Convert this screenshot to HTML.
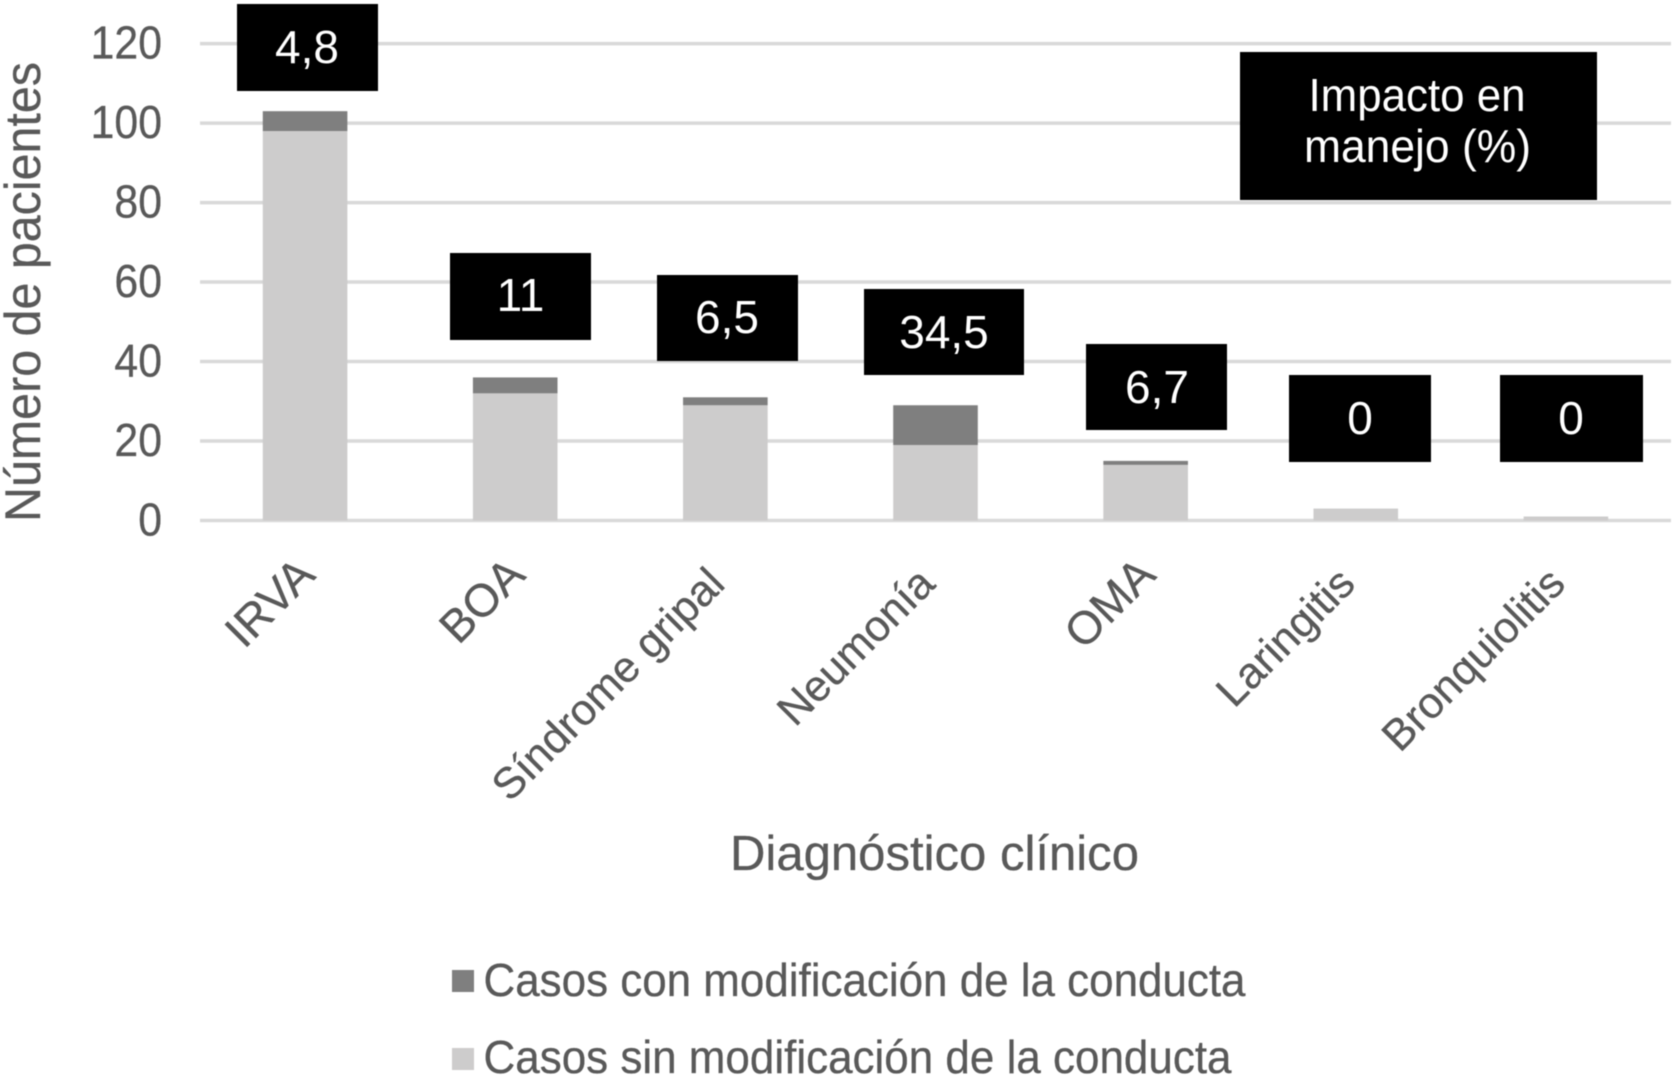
<!DOCTYPE html>
<html lang="es">
<head>
<meta charset="utf-8">
<title>Impacto en manejo por diagnóstico clínico</title>
<style>
html,body{margin:0;padding:0;background:#fff;width:1675px;height:1078px;overflow:hidden}
svg{display:block;filter:blur(0.4px)}
text{font-family:"Liberation Sans",Arial,sans-serif}
.t{fill:#595959;stroke:#595959;stroke-width:.3px}
.w{fill:#fff;text-anchor:middle;font-size:46px}
</style>
</head>
<body>
<svg id="chart" xmlns="http://www.w3.org/2000/svg" width="1675" height="1078" viewBox="0 0 1675 1078">
  <g id="grid"></g>
  <g id="bars"></g>
  <g id="yticks"></g>
  <g id="xticks"></g>

  <text class="t" transform="translate(40,522) rotate(-90)" font-size="50" textLength="460" lengthAdjust="spacingAndGlyphs">Número de pacientes</text>
  <text class="t" x="730" y="870" font-size="49" textLength="409" lengthAdjust="spacingAndGlyphs">Diagnóstico clínico</text>

  <g>
    <rect x="237" y="4" width="141" height="87" fill="#000"/>
    <text class="w" x="307" y="63">4,8</text>
    <rect x="450" y="253" width="141" height="87" fill="#000"/>
    <text class="w" x="520.5" y="311">11</text>
    <rect x="657" y="275" width="141" height="86" fill="#000"/>
    <text class="w" x="727" y="333">6,5</text>
    <rect x="864" y="289" width="160" height="86" fill="#000"/>
    <text class="w" x="944" y="348">34,5</text>
    <rect x="1086" y="344" width="141" height="86" fill="#000"/>
    <text class="w" x="1157" y="403">6,7</text>
    <rect x="1289" y="375" width="142" height="87" fill="#000"/>
    <text class="w" x="1360" y="434">0</text>
    <rect x="1500" y="375" width="143" height="87" fill="#000"/>
    <text class="w" x="1571" y="434">0</text>
    <rect x="1240" y="52" width="357" height="148" fill="#000"/>
    <text class="w" x="1417" y="111" textLength="217" lengthAdjust="spacingAndGlyphs">Impacto en</text>
    <text class="w" x="1417.5" y="162" textLength="227" lengthAdjust="spacingAndGlyphs">manejo (%)</text>
  </g>

  <g>
    <g>
      <rect x="452" y="970" width="22" height="22" fill="#7f7f7f"/>
      <text class="t" x="483.5" y="996" font-size="46" textLength="762" lengthAdjust="spacingAndGlyphs">Casos con modificación de la conducta</text>
    </g>
    <g>
      <rect x="452" y="1048" width="22" height="22" fill="#cdcccc"/>
      <text class="t" x="483.5" y="1073" font-size="46" textLength="748" lengthAdjust="spacingAndGlyphs">Casos sin modificación de la conducta</text>
    </g>
  </g>
</svg>
<script>
const categories = ["IRVA", "BOA", "Síndrome gripal", "Neumonía", "OMA", "Laringitis", "Bronquiolitis"];
const sinModificacion = [98, 32, 29, 19, 14, 3, 1];
const conModificacion = [5, 4, 2, 10, 1, 0, 0];
const yTicks = [0, 20, 40, 60, 80, 100, 120];

const NS = "http://www.w3.org/2000/svg";
const plotLeft = 200, plotRight = 1671, plotZero = 520.5, unit = 3.974, barWidth = 84.6;
const yScale = v => plotZero - v * unit;
const xBand = () => (plotRight - plotLeft) / categories.length;
const xCenter = i => plotLeft + xBand() * (i + 0.5);
const slug = s => s.normalize("NFD").replace(/[\u0300-\u036f]/g, "").toLowerCase().replace(/\s+/g, "-");

function make(tag, attrs, parent, txt) {
  const el = document.createElementNS(NS, tag);
  for (const k in attrs) el.setAttribute(k, attrs[k]);
  if (txt !== undefined) el.textContent = txt;
  parent.appendChild(el);
  return el;
}

const gridG = document.getElementById("grid");
const tickG = document.getElementById("yticks");
yTicks.forEach(t => {
  const line = make("line", {x1: plotLeft, x2: plotRight, y1: yScale(t), y2: yScale(t), stroke: "#d9d9d9", "stroke-width": 3.5}, gridG);
  
  
  const label = make("text", {transform: "translate(162," + (yScale(t) + 15) + ") scale(.93,1)", "text-anchor": "end", "font-size": 46, class: "t"}, tickG, String(t));
  
  
});

const barG = document.getElementById("bars");
const labelG = document.getElementById("xticks");
categories.forEach((c, i) => {
  const cx = xCenter(i);
  const light = make("rect", {x: cx - barWidth / 2, width: barWidth, y: yScale(sinModificacion[i]), height: sinModificacion[i] * unit, fill: "#cdcccc"}, barG);
  
  
  const top = sinModificacion[i] + conModificacion[i];
  const dark = make("rect", {x: cx - barWidth / 2, width: barWidth, y: yScale(top), height: conModificacion[i] * unit, fill: "#7f7f7f"}, barG);
  
  
  const lower = /[a-zí]$/.test(c);
  const ax = cx + (lower ? 1.5 : 12), ay = lower ? 586 : 577;
  const label = make("text", {transform: "translate(" + ax + "," + ay + ") rotate(-45)", "text-anchor": "end", "font-size": lower ? 43.5 : 46, class: "t"}, labelG, c);
  
  
});
</script>
</body>
</html>
